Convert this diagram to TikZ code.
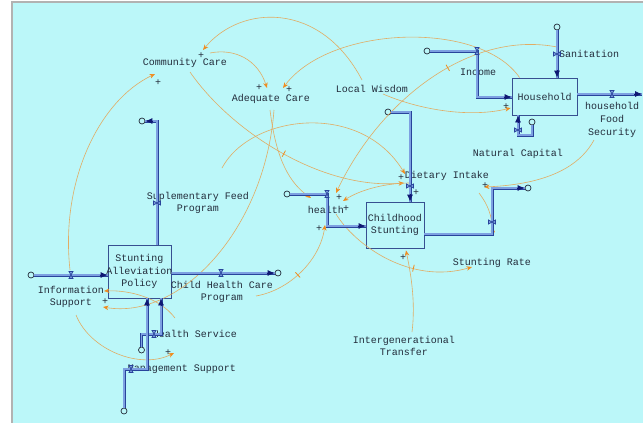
\documentclass[tikz,border=0pt]{standalone}
\usepackage{fontspec}
\newfontfamily\vfont{Liberation Mono}
\usetikzlibrary{arrows.meta,decorations.markings}
\definecolor{bgc}{RGB}{187,247,249}
\definecolor{flowc}{RGB}{40,68,155}
\definecolor{flowin}{RGB}{125,160,225}
\definecolor{navyc}{RGB}{15,25,115}
\definecolor{txt}{RGB}{35,45,60}
\definecolor{boxc}{RGB}{55,80,145}
\definecolor{linkc}{RGB}{225,172,100}
\definecolor{tipc}{RGB}{240,140,30}
\tikzset{
  lbl/.style={font=\vfont\fontsize{10}{12.8}\selectfont, text=txt, inner sep=0pt, align=center},
  pl/.style={font=\vfont\fontsize{10}{10}\selectfont, text=txt, inner sep=0pt},
  stockbox/.style={draw=boxc, line width=0.8pt, inner sep=0pt},
  cloud/.style={circle, draw=txt, fill=bgc, line width=0.7pt, minimum size=6pt, inner sep=0pt},
  flowline/.style={draw=flowc, line width=0.8pt, double=flowin, double distance=1.4pt},
  flowtip/.style={-{Latex[length=7pt,width=6pt]}, draw=navyc, line width=0.8pt},
  valveh/.style={draw=none, inner sep=0pt, minimum width=6pt, minimum height=9pt,
    path picture={\draw[flowc, line width=0.7pt, fill=flowin]
      ([xshift=1pt,yshift=-1pt]path picture bounding box.north west) --
      ([xshift=-1pt,yshift=-1pt]path picture bounding box.north east) --
      ([xshift=1pt,yshift=1pt]path picture bounding box.south west) --
      ([xshift=-1pt,yshift=1pt]path picture bounding box.south east) -- cycle;}},
  valvev/.style={draw=none, inner sep=0pt, minimum width=9pt, minimum height=6pt,
    path picture={\draw[flowc, line width=0.7pt, fill=flowin]
      ([xshift=1pt,yshift=-1pt]path picture bounding box.north west) --
      ([xshift=1pt,yshift=1pt]path picture bounding box.south west) --
      ([xshift=-1pt,yshift=-1pt]path picture bounding box.north east) --
      ([xshift=-1pt,yshift=1pt]path picture bounding box.south east) -- cycle;}},
  link/.style={draw=linkc, line width=0.6pt, -{Stealth[length=5.5pt,width=4.5pt,color=tipc]}},
  linktick/.style={postaction={decorate}, decoration={markings, mark=at position #1 with {\draw[-, draw=tipc, line width=0.8pt] (0pt,-3.5pt) -- (0pt,3.5pt);}}}
}
\begin{document}
\begin{tikzpicture}[x=1pt,y=-1pt]
\useasboundingbox (0,0) rectangle (643,423);
\fill[white] (0,0) rectangle (643,423);
\fill[bgc] (12,2) rectangle (643,423);
\draw[gray!60, line width=1.2pt] (12,423) -- (12,2) -- (643,2);

% stocks
\node[stockbox, minimum width=63pt, minimum height=53pt] (sap) at (139.5,271.5) {};
\node[stockbox, minimum width=58pt, minimum height=46pt] (cs) at (395,225) {};
\node[stockbox, minimum width=65pt, minimum height=37pt] (hh) at (544.5,96.5) {};

% clouds
\node[cloud] (c1) at (31,275) {};
\node[cloud] (c2) at (142,121) {};
\node[cloud] (c3) at (278,273) {};
\node[cloud] (c4) at (141.5,350) {};
\node[cloud] (c5) at (124,411) {};
\node[cloud] (c6) at (287,194) {};
\node[cloud] (c7) at (388,112) {};
\node[cloud] (c8) at (528,188) {};
\node[cloud] (c9) at (427,51) {};
\node[cloud] (c10) at (557,27) {};
\node[cloud] (c11) at (532,122) {};

% labels
\node[lbl] (ccare) at (185,63) {Community Care};
\node[lbl] (acare) at (271,99) {Adequate Care};
\node[lbl] (lw) at (372,89) {Local Wisdom};
\node[lbl] (inc) at (478,72) {Income};
\node[lbl] (san) at (589,54) {Sanitation};
\node[lbl] (hfs) at (612,120) {household\\Food\\Security};
\node[lbl] (nc) at (518,154) {Natural Capital};
\node[lbl] (di) at (447,176) {Dietary Intake};
\node[lbl] (hl) at (326,210) {health};
\node[lbl] (sr) at (492,263) {Stunting Rate};
\node[lbl] (sfp) at (198,203) {Suplementary Feed\\Program};
\node[lbl] (chcp) at (222,292) {Child Health Care\\Program};
\node[lbl] (is) at (71,297) {Information\\Support};
\node[lbl] (hs) at (195,334) {Health Service};
\node[lbl] (ms) at (182,369) {Management Support};
\node[lbl] (igt) at (404,346) {Intergenerational\\Transfer};

% causal links
\draw[link] ([shift={(-10,-9)}]lw.center) .. controls (320,0) and (240,5) .. ([shift={(18,-13)}]ccare.center);
\draw[link] ([shift={(25,-10)}]ccare.center) .. controls (235,48) and (258,60) .. ([shift={(-4,-11)}]acare.center);
\draw[link] ([xshift=8pt]hh.north west) .. controls (480,20) and (330,25) .. ([shift={(12,-11)}]acare.center);
\draw[link, linktick=0.4] ([shift={(-32,-7)}]san.center) .. controls (470,30) and (380,100) .. ([shift={(10,-17)}]hl.center);
\draw[link] ([shift={(11,5)}]lw.center) .. controls (420,110) and (470,118) .. ([shift={(-1,11.5)}]hh.west);
\draw[link, linktick=0.5] ([shift={(5,9)}]ccare.center) .. controls (230,130) and (320,190) .. ([shift={(-43,7)}]di.center);
\draw[link] ([shift={(-1,11)}]acare.center) .. controls (275,150) and (285,180) .. ([shift={(-15,-12)}]hl.center);
\draw[link] ([shift={(3,11)}]acare.center) .. controls (265,230) and (180,320) .. ([shift={(32,10)}]is.center);
\draw[link] ([shift={(-1,-27)}]is.center) .. controls (60,180) and (100,100) .. ([shift={(-30,11)}]ccare.center);
\draw[link] ([shift={(5,18)}]is.center) .. controls (90,350) and (140,370) .. ([shift={(-8,-16)}]ms.center);
\draw[link] ([shift={(-20,-16)}]hs.center) .. controls (160,298) and (130,290) .. ([shift={(33,-6)}]is.center);
\draw[link, linktick=0.45] ([shift={(34,4)}]chcp.center) .. controls (290,290) and (320,260) .. ([shift={(-1,15)}]hl.center);
\draw[link] ([shift={(24,-35)}]sfp.center) .. controls (250,115) and (360,100) .. ([shift={(-42,-2)}]di.center);
\draw[link] ([shift={(-18,20)}]hfs.center) .. controls (575,175) and (530,185) .. ([shift={(-44,-1)}]c8.center);
\draw[link] ([shift={(-37,7)}]di.center) .. controls (385,183) and (360,190) .. ([shift={(17,-9)}]hl.center);
\draw[link, linktick=0.62] ([shift={(10,4)}]hl.center) .. controls (355,245) and (410,285) .. ([shift={(-20,4)}]sr.center);
\draw[link] ([shift={(8,-14)}]igt.center) .. controls (416,300) and (410,270) .. ([xshift=11pt,yshift=-2pt]cs.south);
\draw[link] ([shift={(32,17)}]di.center) .. controls (488,205) and (492,215) .. ([shift={(1,-27)}]sr.center);

% flows
\coordinate (f1e) at (sap.west |- c1);
\draw[flowline] (c1.east) -- (f1e);
\draw[flowtip] ([xshift=-8pt]f1e) -- (f1e);

\coordinate (f2s) at ([xshift=17.5pt]sap.north);
\draw[flowline] (f2s) |- (c2.east);
\draw[flowtip] ([xshift=8pt]c2.east) -- (c2.east);

\coordinate (f3s) at (sap.east |- c3);
\draw[flowline] (f3s) -- (c3.west);
\draw[flowtip] ([xshift=-8pt]c3.west) -- (c3.west);

\coordinate (f4e) at ([xshift=21.5pt]sap.south);
\coordinate (f4k) at (141.5,334);
\draw[flowline] (c4.north) -- (f4k) -- (f4k -| f4e) -- (f4e);
\draw[flowtip] ([yshift=-8pt]f4e) -- (f4e);

\coordinate (f5e) at ([xshift=7.5pt]sap.south);
\coordinate (f5k) at (124,369);
\draw[flowline] (c5.north) -- (f5k) -- (f5k -| f5e) -- (f5e);
\draw[flowtip] ([yshift=-8pt]f5e) -- (f5e);

\coordinate (f6k1) at (327,194);
\coordinate (f6k2) at (327,226);
\coordinate (f6e) at (f6k2 -| cs.west);
\draw[flowline] (c6.east) -- (f6k1) -- (f6k2) -- (f6e);
\draw[flowtip] ([xshift=-8pt]f6e) -- (f6e);

\coordinate (f7e) at ([xshift=15pt]cs.north);
\draw[flowline] (c7.east) -| (f7e);
\draw[flowtip] ([yshift=8pt]f7e) -- (f7e);

\coordinate (f8k1) at (492,234);
\coordinate (f8k2) at (492,188);
\draw[flowline] (cs.east |- f8k1) -- (f8k1) -- (f8k2) -- (c8.west);
\draw[flowtip] ([xshift=-8pt]c8.west) -- (c8.west);

\coordinate (f9k1) at (477,51);
\coordinate (f9k2) at (477,97);
\coordinate (f9e) at (hh.west |- f9k2);
\draw[flowline] (c9.east) -- (f9k1) -- (f9k2) -- (f9e);
\draw[flowtip] ([xshift=-8pt]f9e) -- (f9e);

\coordinate (f10e) at ([xshift=12.5pt]hh.north);
\draw[flowline] (c10.south) -- (f10e);
\draw[flowtip] ([yshift=8pt]f10e) -- (f10e);

\coordinate (f11e) at ([xshift=-26.5pt]hh.south);
\coordinate (f11k) at (532,135);
\draw[flowline] (c11.south) -- (f11k) -- (f11k -| f11e) -- (f11e);
\draw[flowtip] ([yshift=-8pt]f11e) -- (f11e);

\coordinate (hfsend) at (642,94);
\draw[flowline] (hh.east |- hfsend) -- (hfsend);
\draw[flowtip] ([xshift=-8pt]hfsend) -- (hfsend);

% valves
\node[valveh] (v1) at (71,275) {};
\node[valvev] (v2) at (157,203) {};
\node[valveh] (v3) at (221,273) {};
\node[valveh] (v4) at (154,334) {};
\node[valveh] (v5) at (131,369) {};
\node[valveh] (v6) at (327,194) {};
\node[valvev] (v7) at (410,186) {};
\node[valvev] (v8) at (492,222) {};
\node[valveh] (v9) at (477,51) {};
\node[valvev] (v10) at (557,54) {};
\node[valvev] (v11) at (518,130) {};
\node[valveh] (v12) at (612,94) {};

% stock texts
\node[lbl] (saptxt) at (sap.center) {Stunting\\Alleviation\\Policy};
\node[lbl] (cstxt) at (cs.center) {Childhood\\Stunting};
\node[lbl] (hhtxt) at (hh.center) {Household};

% polarity signs
\node[pl] (p1) at (201,56) {+};
\node[pl] (p2) at (158,83) {+};
\node[pl] (p3) at (259,88) {+};
\node[pl] (p4) at (289,90) {+};
\node[pl] (p5) at (506,107) {+};
\node[pl] (p6) at (401,178) {+};
\node[pl] (p7) at (416,193) {+};
\node[pl] (p8) at (485,186) {+};
\node[pl] (p9) at (339,198) {+};
\node[pl] (p10) at (346,209) {+};
\node[pl] (p11) at (319,229) {+};
\node[pl] (p12) at (403,258) {+};
\node[pl] (p13) at (105,302) {+};
\node[pl] (p14) at (168,353) {+};
\end{tikzpicture}
\end{document}
